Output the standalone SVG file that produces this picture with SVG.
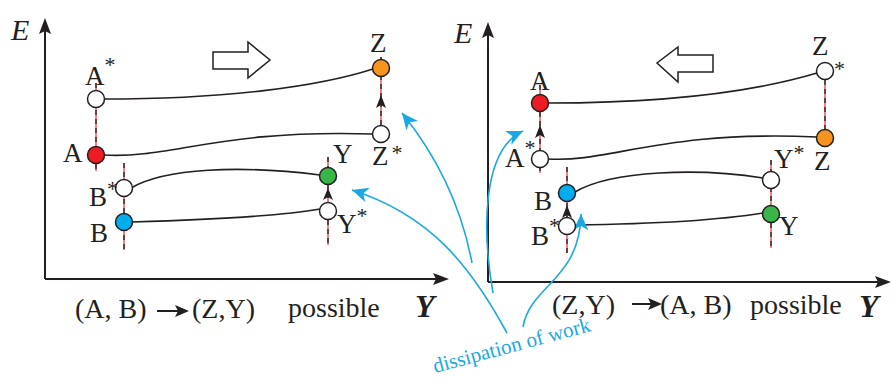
<svg xmlns="http://www.w3.org/2000/svg" width="891" height="377" viewBox="0 0 891 377">
<style>
.lbl{font-family:"Liberation Serif","Times New Roman",serif;font-size:27px;fill:#231f20}
.cap{font-family:"Liberation Serif","Times New Roman",serif;font-size:28px;fill:#231f20}
.st{font-size:22px}
.ax{font-family:"Liberation Serif","Times New Roman",serif;font-style:italic;fill:#231f20}
.axis{stroke:#231f20;stroke-width:2;fill:none}
.curve{stroke:#231f20;stroke-width:1.6;fill:none}
.dr{stroke:#ee3a43;stroke-width:1.3;fill:none}
.dk{stroke:#231f20;stroke-width:1.3;stroke-dasharray:5 4;fill:none}
.node{stroke:#231f20;stroke-width:1.5}
.blue{stroke:#1aa9e4;stroke-width:1.6;fill:none}
.hollow{fill:#fff;stroke:#231f20;stroke-width:1.5;stroke-linejoin:miter}
.ah{fill:#231f20}
</style>
<defs>
<marker id="bh" markerUnits="userSpaceOnUse" markerWidth="20" markerHeight="20" viewBox="-14 -7 16 14" refX="0" refY="0" orient="auto">
<path d="M0,0 L-13,-6 L-9.5,0 L-13,6 Z" fill="#1aa9e4"/>
</marker>
</defs>
<rect width="891" height="377" fill="#fff"/>

<g id="left-axes">
<path class="axis" d="M45,279 V26 M45,279 H440"/>
<path class="ah" d="M45,18 L39,34 L45,31 L51,34 Z"/>
<path class="ah" d="M449,279 L433,273 L436,279 L433,285 Z"/>
<text class="ax" x="11" y="40" font-size="30">E</text>
<text class="ax" x="415" y="317" font-size="32" font-weight="bold">Y</text>
</g>

<g id="right-axes">
<path class="axis" d="M488,282 V30 M488,282 H882"/>
<path class="ah" d="M488,22 L482,38 L488,35 L494,38 Z"/>
<path class="ah" d="M891,282 L875,276 L878,282 L875,288 Z"/>
<text class="ax" x="454" y="43" font-size="30">E</text>
<text class="ax" x="859" y="317" font-size="32" font-weight="bold">Y</text>
</g>

<g id="left-direction">
<polygon class="hollow" points="213,52 248,52 248,42 270,60 248,78 248,69 213,69"/>
</g>
<g id="right-direction">
<polygon class="hollow" points="713,55 678,55 678,47 657,63 678,82 678,72 713,72"/>
</g>

<g id="connectors">
<path class="dr" d="M96,83 V171 M124,163 V250 M381,57 V126 M328,157 V245"/>
<path class="dk" d="M96,83 V171 M124,163 V250 M381,57 V126 M328,157 V245"/>
<path class="dr" d="M540,85 V173 M567,167 V253 M825,62 V138 M771,160 V248"/>
<path class="dk" d="M540,85 V173 M567,167 V253 M825,62 V138 M771,160 V248"/>
<path class="curve" d="M103,99 C230,99 320,86 373,69"/>
<path class="curve" d="M104,155 C170,159 220,129 373,134"/>
<path class="curve" d="M131,188 C165,168 240,165 320,175"/>
<path class="curve" d="M132,222 C200,220 280,216 320,209"/>
<path class="curve" d="M548,103 C660,103 750,93 817,73"/>
<path class="curve" d="M548,159 C610,163 660,130 817,137"/>
<path class="curve" d="M575,192 C612,170 700,168 763,178"/>
<path class="curve" d="M575,225 C650,224 720,220 763,213"/>
<path class="ah" d="M381,95 L376,108 L381,105 L386,108 Z"/>
<path class="ah" d="M328,188 L323,200 L328,197 L333,200 Z"/>
<path class="ah" d="M540,125 L535,138 L540,135 L545,138 Z"/>
<path class="ah" d="M567,205 L562,218 L567,215 L572,218 Z"/>
<path class="blue" marker-end="url(#bh)" d="M472,263 C462,210 440,160 402,113"/>
<path class="blue" marker-end="url(#bh)" d="M507,333 C470,265 430,215 352,190"/>
<path class="blue" marker-end="url(#bh)" d="M493,293 C482,230 482,150 523,131"/>
<path class="blue" marker-end="url(#bh)" d="M523,327 C530,285 580,280 581,214"/>
</g>

<g id="L-Astar">
<circle class="node" cx="96" cy="99" r="8.5" fill="#fff"/>
<text class="lbl" x="85" y="85">A<tspan class="st" dy="-13">*</tspan></text>
</g>
<g id="L-A">
<circle class="node" cx="96" cy="155" r="8.5" fill="#ed1c24"/>
<text class="lbl" x="63" y="162">A</text>
</g>
<g id="L-Z">
<circle class="node" cx="381" cy="68" r="8.5" fill="#f7941d"/>
<text class="lbl" x="370" y="52">Z</text>
</g>
<g id="L-Zstar">
<circle class="node" cx="381" cy="134" r="8.5" fill="#fff"/>
<text class="lbl" x="372" y="165">Z<tspan class="st" dx="3" dy="-5">*</tspan></text>
</g>
<g id="L-Y">
<circle class="node" cx="328" cy="176" r="8.5" fill="#39b54a"/>
<text class="lbl" x="333" y="163">Y</text>
</g>
<g id="L-Bstar">
<circle class="node" cx="124" cy="188" r="8.5" fill="#fff"/>
<text class="lbl" x="89" y="206">B<tspan class="st" dy="-10">*</tspan></text>
</g>
<g id="L-B">
<circle class="node" cx="124" cy="222" r="8.5" fill="#00aeef"/>
<text class="lbl" x="90" y="242">B</text>
</g>
<g id="L-Ystar">
<circle class="node" cx="328" cy="211" r="8.5" fill="#fff"/>
<text class="lbl" x="337" y="233">Y<tspan class="st" dy="-10">*</tspan></text>
</g>

<g id="R-A">
<circle class="node" cx="540" cy="103" r="8.5" fill="#ed1c24"/>
<text class="lbl" x="530" y="90">A</text>
</g>
<g id="R-Astar">
<circle class="node" cx="540" cy="159" r="8.5" fill="#fff"/>
<text class="lbl" x="505" y="167">A<tspan class="st" dy="-12">*</tspan></text>
</g>
<g id="R-Zstar">
<circle class="node" cx="825" cy="71" r="8.5" fill="#fff"/>
<text class="lbl" x="812" y="55">Z</text>
<text class="lbl st" x="834" y="76">*</text>
</g>
<g id="R-Z">
<circle class="node" cx="825" cy="138" r="8.5" fill="#f7941d"/>
<text class="lbl" x="814" y="170">Z</text>
</g>
<g id="R-Ystar">
<circle class="node" cx="771" cy="180" r="8.5" fill="#fff"/>
<text class="lbl" x="774" y="168">Y<tspan class="st" dy="-8">*</tspan></text>
</g>
<g id="R-Y">
<circle class="node" cx="771" cy="214" r="8.5" fill="#39b54a"/>
<text class="lbl" x="779" y="235">Y</text>
</g>
<g id="R-B">
<circle class="node" cx="567" cy="193" r="8.5" fill="#00aeef"/>
<text class="lbl" x="534" y="210">B</text>
</g>
<g id="R-Bstar">
<circle class="node" cx="567" cy="226" r="8.5" fill="#fff"/>
<text class="lbl" x="531" y="245">B<tspan class="st" dy="-12">*</tspan></text>
</g>

<g id="left-caption">
<text class="cap" x="75" y="318">(A, B)</text>
<path d="M157,311 H180" stroke="#231f20" stroke-width="2"/>
<path class="ah" d="M189,311 L175,305 L178,311 L175,317 Z"/>
<text class="cap" x="192" y="318">(Z,Y)</text>
<text class="cap" x="288" y="317">possible</text>
</g>
<g id="right-caption">
<text class="cap" x="552" y="314">(Z,Y)</text>
<path d="M632,304 H653" stroke="#231f20" stroke-width="2"/>
<path class="ah" d="M662,304 L648,298 L651,304 L648,310 Z"/>
<text class="cap" x="660" y="314">(A, B)</text>
<text class="cap" x="750" y="314">possible</text>
</g>

<g id="dissipation-label">
<text x="435" y="373" transform="rotate(-15 435 373)" font-family="Liberation Serif, Times New Roman, serif" font-size="21" fill="#1aa9e4">dissipation of work</text>
</g>
</svg>
